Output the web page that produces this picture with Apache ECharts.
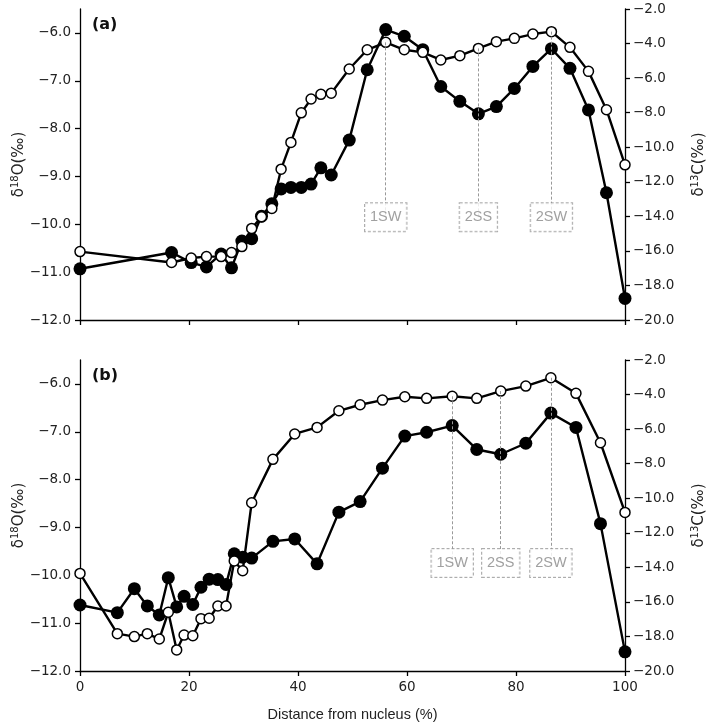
<!DOCTYPE html>
<html>
<head>
<meta charset="utf-8">
<script src="https://cdn.jsdelivr.net/npm/echarts@6/dist/echarts.min.js"></script>
<style>
  html, body { margin: 0; padding: 0; background: #fff; }
  #main { width: 709px; height: 722px; }
</style>
</head>
<body>
<div id="main"></div>
<script>
// distance from nucleus (%), shared by both series of a panel
const distA = [0, 16.8, 20.4, 23.2, 25.9, 27.8, 29.7, 31.5, 33.3, 35.2, 36.9, 38.7, 40.6, 42.4, 44.2, 46.1,
  49.4, 52.7, 56.1, 59.5, 62.9, 66.2, 69.7, 73.1, 76.4, 79.7, 83.1, 86.5, 89.9, 93.3, 96.6, 100]
const o18A = [-10.93, -10.59, -10.80, -10.89, -10.62, -10.91, -10.35, -10.30, -9.83, -9.57, -9.26, -9.23, -9.23, -9.16, -8.82, -8.97,
  -8.24, -6.77, -5.93, -6.07, -6.35, -7.12, -7.43, -7.69, -7.54, -7.16, -6.70, -6.33, -6.74, -7.61, -9.34, -11.55]
const c13A = [-16.04, -16.67, -16.41, -16.33, -16.33, -16.10, -15.75, -14.70, -14.03, -13.55, -11.27, -9.72, -8.01, -7.21, -6.94, -6.87,
  -5.47, -4.36, -3.93, -4.36, -4.51, -4.95, -4.70, -4.28, -3.89, -3.70, -3.45, -3.31, -4.22, -5.61, -7.83, -11.02]

const distB = [0, 6.85, 9.97, 12.35, 14.55, 16.2, 17.74, 19.1, 20.7, 22.2, 23.7, 25.3, 26.8, 28.3, 29.85, 31.5,
  35.4, 39.4, 43.5, 47.5, 51.4, 55.5, 59.6, 63.6, 68.3, 72.8, 77.2, 81.8, 86.4, 91.0, 95.5, 100]
const o18B = [-10.62, -10.78, -10.28, -10.64, -10.83, -10.05, -10.66, -10.44, -10.61, -10.25, -10.08, -10.09, -10.19, -9.55, -9.62, -9.64,
  -9.29, -9.24, -9.76, -8.68, -8.46, -7.76, -7.09, -7.01, -6.87, -7.37, -7.47, -7.24, -6.61, -6.91, -8.92, -11.60]
const c13B = [-14.35, -17.84, -18.01, -17.84, -18.15, -16.60, -18.78, -17.92, -17.96, -16.97, -16.95, -16.24, -16.24, -13.63, -14.20, -10.26,
  -7.75, -6.28, -5.90, -4.94, -4.59, -4.32, -4.13, -4.22, -4.10, -4.22, -3.80, -3.51, -3.03, -3.93, -6.79, -10.82]

// growth zone markers: label + index of the sample they point at
const zoneLabels = ['1SW', '2SS', '2SW']
const zoneIdxA = [18, 23, 27]
const zoneIdxB = [24, 26, 28]

const o18Ticks = [-12, -11, -10, -9, -8, -7, -6]

const pair = (xs, ys) => xs.map((x, i) => [x, ys[i]])
const minus = v => v.toFixed(1).replace('-', '\u2212')

const chart = echarts.init(document.getElementById('main'))

const nameRich = {
  t: { fontFamily: 'DejaVu Sans', fontSize: 15, color: '#222' },
  s: { fontFamily: 'DejaVu Sans', fontSize: 10, color: '#222', padding: [0, 0, 8, 0] }
}

function xAxis(gi, showLabel) {
  return {
    type: 'value', gridIndex: gi, min: 0, max: 100, interval: 20,
    axisLine: { lineStyle: { color: '#000', width: 1.3 } },
    axisTick: { length: 5, lineStyle: { color: '#000', width: 1.3 } },
    axisLabel: { show: showLabel, color: '#222', fontFamily: 'DejaVu Sans', fontSize: 13.5, margin: 9 },
    splitLine: { show: false },
    name: showLabel ? 'Distance from nucleus (%)' : '',
    nameLocation: 'middle', nameGap: 36,
    nameTextStyle: { color: '#222', fontFamily: 'Liberation Sans', fontSize: 14.5 }
  }
}

function leftAxis(gi) {
  return {
    type: 'value', gridIndex: gi, min: -12, max: -5.5,
    axisLine: { show: true, lineStyle: { color: '#000', width: 1.3 } },
    axisTick: { length: 5, customValues: o18Ticks, lineStyle: { color: '#000', width: 1.3 } },
    axisLabel: { customValues: o18Ticks, formatter: minus, color: '#222', fontFamily: 'DejaVu Sans', fontSize: 13.5, margin: 9 },
    splitLine: { show: false },
    name: '{t|δ}{s|18}{t|O(‰)}', nameLocation: 'middle', nameRotate: 90, nameGap: 52,
    nameMoveOverlap: false,
    nameTextStyle: { rich: nameRich }
  }
}

function rightAxis(gi) {
  return {
    type: 'value', gridIndex: gi, position: 'right', min: -20, max: -2, interval: 2,
    axisLine: { show: true, lineStyle: { color: '#000', width: 1.3 } },
    axisTick: { length: 5, lineStyle: { color: '#000', width: 1.3 } },
    axisLabel: { formatter: minus, color: '#222', fontFamily: 'DejaVu Sans', fontSize: 13.5, margin: 8 },
    splitLine: { show: false },
    name: '{t|δ}{s|13}{t|C(‰)}', nameLocation: 'middle', nameRotate: 90, nameGap: 65,
    nameMoveOverlap: false,
    nameTextStyle: { rich: nameRich }
  }
}

function filledSeries(xi, yi, xs, ys) {
  return {
    type: 'line', xAxisIndex: xi, yAxisIndex: yi, data: pair(xs, ys),
    symbol: 'circle', symbolSize: 13, z: 3,
    lineStyle: { color: '#000', width: 2.4 },
    itemStyle: { color: '#000', borderWidth: 0 },
    animation: false
  }
}

function openSeries(xi, yi, xs, ys, zoneIdx, boxLevel) {
  return {
    type: 'line', xAxisIndex: xi, yAxisIndex: yi, data: pair(xs, ys),
    symbol: 'circle', symbolSize: 10, z: 4,
    lineStyle: { color: '#000', width: 2.4 },
    itemStyle: { color: '#fff', borderColor: '#000', borderWidth: 1.5 },
    markLine: {
      silent: true, symbol: 'none', animation: false,
      label: { show: false },
      lineStyle: { color: '#999', type: [3, 2], width: 1 },
      data: zoneIdx.map(i => [{ coord: [xs[i], ys[i]] }, { coord: [xs[i], boxLevel] }])
    },
    animation: false
  }
}

function boxSeries(xi, yi, xs, zoneIdx, boxLevel) {
  return {
    type: 'scatter', xAxisIndex: xi, yAxisIndex: yi, symbolSize: 0, z: 10,
    data: zoneIdx.map((i, k) => ({ value: [xs[i], boxLevel], name: zoneLabels[k] })),
    label: {
      show: true, position: 'inside', formatter: p => p.name,
      fontFamily: 'Liberation Sans', fontSize: 14.5, color: '#888',
      backgroundColor: '#fff', borderColor: '#999', borderWidth: 1, borderType: [3, 2],
      padding: [7, 5, 6, 5]
    },
    animation: false
  }
}

chart.setOption({
  backgroundColor: '#fff',
  title: [
    { text: '(a)', left: 87, top: 12, textStyle: { fontFamily: 'DejaVu Sans', fontWeight: 'bold', fontSize: 16, color: '#111' } },
    { text: '(b)', left: 87, top: 363, textStyle: { fontFamily: 'DejaVu Sans', fontWeight: 'bold', fontSize: 16, color: '#111' } }
  ],
  grid: [
    { left: 80, right: 84, top: 9, height: 311, outerBoundsMode: 'none' },
    { left: 80, right: 84, top: 360, height: 311, outerBoundsMode: 'none' }
  ],
  xAxis: [xAxis(0, false), xAxis(1, true)],
  yAxis: [leftAxis(0), rightAxis(0), leftAxis(1), rightAxis(1)],
  series: [
    filledSeries(0, 0, distA, o18A),
    openSeries(0, 1, distA, c13A, zoneIdxA, -14.05),
    boxSeries(0, 1, distA, zoneIdxA, -14.05),
    filledSeries(1, 2, distB, o18B),
    openSeries(1, 3, distB, c13B, zoneIdxB, -13.75),
    boxSeries(1, 3, distB, zoneIdxB, -13.75)
  ]
})
</script>
</body>
</html>
